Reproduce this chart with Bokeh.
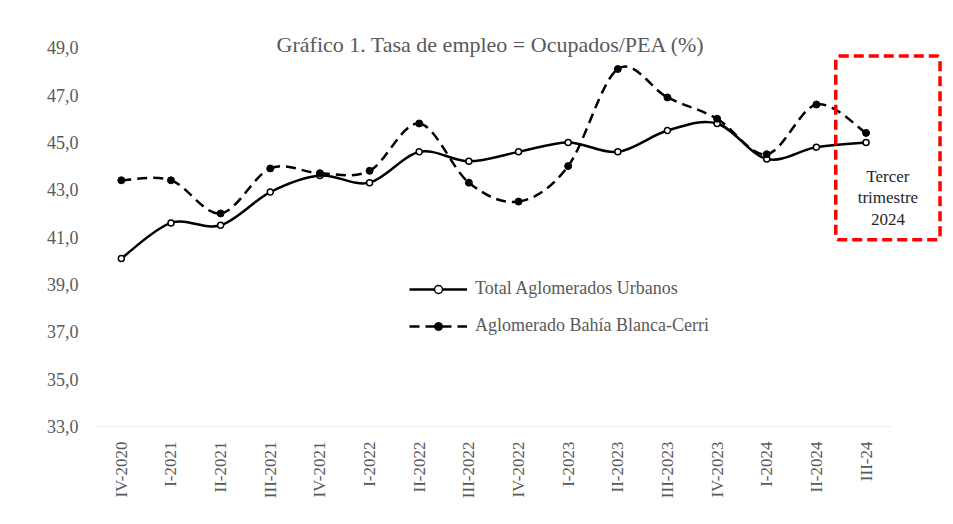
import numpy as np
from bokeh.plotting import figure
from bokeh.models import (ColumnDataSource, FixedTicker, CustomJSTickFormatter, Label,
                          BoxAnnotation, Legend, LegendItem, Range1d)
from bokeh.embed import file_html
from bokeh.resources import INLINE

# ---- data ----
quarters = ["IV-2020", "I-2021", "II-2021", "III-2021", "IV-2021", "I-2022", "II-2022",
            "III-2022", "IV-2022", "I-2023", "II-2023", "III-2023", "IV-2023", "I-2024",
            "II-2024", "III-24"]
total = [40.1, 41.6, 41.5, 42.9, 43.6, 43.3, 44.6, 44.2, 44.6, 45.0, 44.6, 45.5, 45.8, 44.3, 44.8, 45.0]
bahia = [43.4, 43.4, 42.0, 43.9, 43.7, 43.8, 45.8, 43.3, 42.5, 44.0, 48.1, 46.9, 46.0, 44.5, 46.6, 45.4]
y_ticks = [33, 35, 37, 39, 41, 43, 45, 47, 49]
title_text = "Gráfico  1. Tasa de empleo = Ocupados/PEA (%)"
legend_labels = ["Total Aglomerados Urbanos", "Aglomerado Bahía Blanca-Cerri"]
note_lines = ["Tercer", "trimestre", "2024"]

FONT = "Liberation Serif"
GRAY = "#595959"

xs = list(range(len(quarters)))


def smooth_source(x, y):
    """Excel-like smoothed line: cubic Bezier segments with Catmull-Rom control points."""
    x = np.asarray(x, float)
    y = np.asarray(y, float)
    xp = np.concatenate([[x[0]], x, [x[-1]]])
    yp = np.concatenate([[y[0]], y, [y[-1]]])
    d = dict(x0=[], y0=[], x1=[], y1=[], cx0=[], cy0=[], cx1=[], cy1=[])
    for i in range(len(x) - 1):
        p0x, p1x, p2x, p3x = xp[i], xp[i + 1], xp[i + 2], xp[i + 3]
        p0y, p1y, p2y, p3y = yp[i], yp[i + 1], yp[i + 2], yp[i + 3]
        d["x0"].append(p1x); d["y0"].append(p1y)
        d["x1"].append(p2x); d["y1"].append(p2y)
        d["cx0"].append(p1x + (p2x - p0x) / 6); d["cy0"].append(p1y + (p2y - p0y) / 6)
        d["cx1"].append(p2x - (p3x - p1x) / 6); d["cy1"].append(p2y - (p3y - p1y) / 6)
    return ColumnDataSource(d)


p = figure(width=945, height=508,
           x_range=Range1d(-0.5, 16.6), y_range=Range1d(33, 49.6),
           output_backend="svg", toolbar_location=None,
           min_border_left=96, min_border_right=0, min_border_top=33, min_border_bottom=82)
p.outline_line_color = None
p.grid.grid_line_color = None
p.background_fill_color = "white"
p.border_fill_color = "white"

# axes
p.yaxis.ticker = FixedTicker(ticks=y_ticks)
p.yaxis.formatter = CustomJSTickFormatter(code="return tick.toFixed(1).replace('.', ',');")
p.xaxis.ticker = FixedTicker(ticks=xs)
p.xaxis.major_label_overrides = {i: q for i, q in enumerate(quarters)}
p.xaxis.major_label_orientation = np.pi / 2
for ax in (p.xaxis, p.yaxis):
    ax.axis_line_color = None
    ax.major_tick_line_color = None
    ax.minor_tick_line_color = None
    ax.major_label_text_font = FONT
    ax.major_label_text_color = GRAY
p.yaxis.major_label_text_font_size = "18px"
p.yaxis.major_label_standoff = 12
p.xaxis.major_label_text_font_size = "17px"
p.xaxis.major_label_standoff = 9

# baseline (category axis line)
p.segment(x0=[xs[0] - 0.5], y0=[y_ticks[0]], x1=[xs[-1] + 0.5], y1=[y_ticks[0]],
          line_color="#d9d9d9", line_width=1)

# series
src_t = smooth_source(xs, total)
src_b = smooth_source(xs, bahia)
r_bt = p.bezier(x0="x0", y0="y0", x1="x1", y1="y1", cx0="cx0", cy0="cy0", cx1="cx1", cy1="cy1",
                source=src_t, line_color="black", line_width=2.5)
r_bb = p.bezier(x0="x0", y0="y0", x1="x1", y1="y1", cx0="cx0", cy0="cy0", cx1="cx1", cy1="cy1",
                source=src_b, line_color="black", line_width=2.5, line_dash="10 6")
r_pt = p.scatter(xs, total, marker="circle", size=6, fill_color="white",
                 line_color="black", line_width=1.5)
r_pb = p.scatter(xs, bahia, marker="circle", size=7, fill_color="black", line_color="black")

legend = Legend(items=[LegendItem(label=legend_labels[0], renderers=[r_bt, r_pt]),
                       LegendItem(label=legend_labels[1], renderers=[r_bb, r_pb])],
                location=(313, 90), orientation="vertical",
                glyph_width=58, glyph_height=20, label_height=20, spacing=16,
                label_standoff=8, padding=0, margin=0,
                border_line_color=None, background_fill_alpha=0,
                label_text_font=FONT, label_text_font_size="18px", label_text_color=GRAY)
p.add_layout(legend)

# title
p.add_layout(Label(x=7.5, y=49.12, text=title_text, text_align="center", text_baseline="middle",
                   text_font=FONT, text_font_size="22px", text_color=GRAY))

# highlighted box
p.add_layout(BoxAnnotation(left=14.39, right=16.49, bottom=40.89, top=48.65,
                           fill_alpha=0, line_color="#ff0000", line_alpha=1.0, line_width=3.5,
                           line_dash="10 5", border_radius=3))
for txt, yy in zip(note_lines, [43.56, 42.66, 41.73]):
    p.add_layout(Label(x=15.44, y=yy, text=txt, text_align="center", text_baseline="middle",
                       text_font=FONT, text_font_size="17px", text_color="#262626"))

open("out.html", "w").write(file_html(p, INLINE))
